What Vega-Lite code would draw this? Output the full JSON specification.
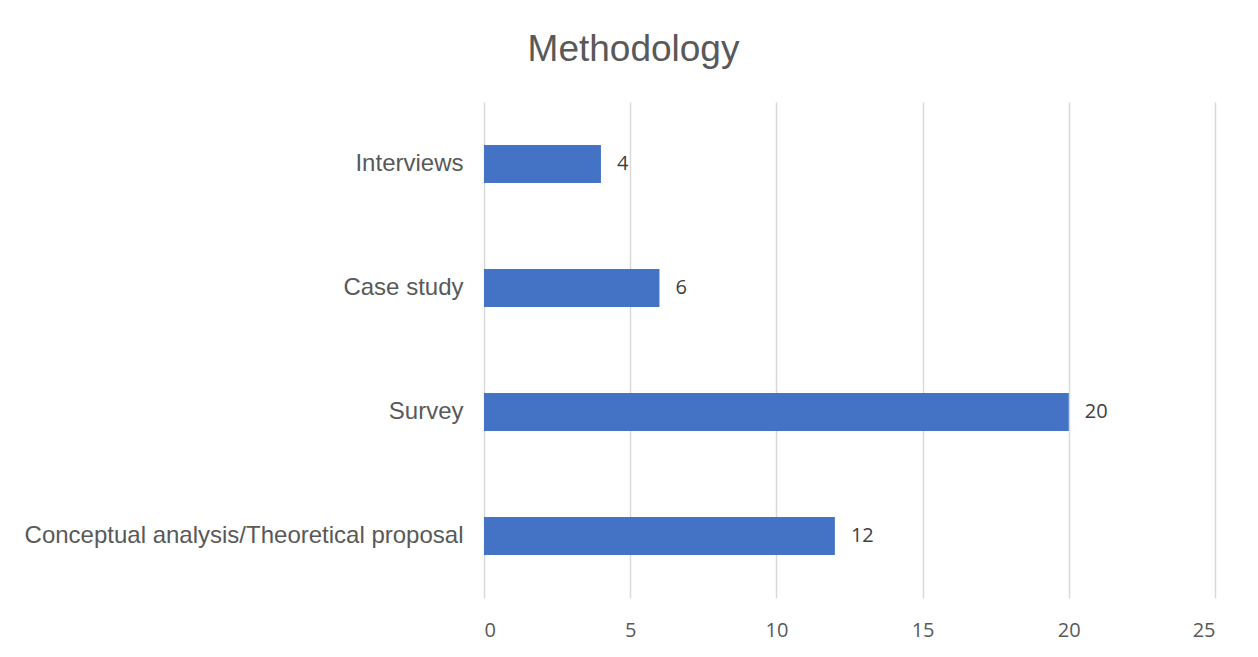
{
  "$schema": "https://vega.github.io/schema/vega-lite/v6.json",
  "width": 731,
  "height": 496,
  "autosize": {"type": "none"},
  "padding": {"left": 484, "top": 102, "right": 43, "bottom": 59},
  "background": "white",
  "title": {
    "text": "Methodology",
    "font": "Liberation Sans",
    "fontSize": 37,
    "fontWeight": "normal",
    "color": "#595959",
    "anchor": "middle",
    "baseline": "alphabetic",
    "dx": -216,
    "dy": 35,
    "offset": 39
  },
  "data": {
    "values": [
      {"method": "Interviews", "count": 4},
      {"method": "Case study", "count": 6},
      {"method": "Survey", "count": 20},
      {"method": "Conceptual analysis/Theoretical proposal", "count": 12}
    ]
  },
  "encoding": {
    "y": {
      "field": "method",
      "type": "nominal",
      "sort": ["Interviews", "Case study", "Survey", "Conceptual analysis/Theoretical proposal"],
      "scale": {"paddingInner": 0.695, "paddingOuter": 0.3475},
      "axis": {
        "title": null,
        "domain": false,
        "ticks": false,
        "labelFont": "Liberation Sans",
        "labelFontSize": 24,
        "labelColor": "#595959",
        "labelPadding": 21,
        "labelLimit": 500
      }
    },
    "x": {
      "field": "count",
      "type": "quantitative",
      "scale": {"domain": [0, 25], "nice": false},
      "axis": {
        "title": null,
        "values": [0, 5, 10, 15, 20, 25],
        "domain": false,
        "ticks": false,
        "grid": true,
        "gridColor": "#D9D9D9",
        "gridWidth": 1.5,
        "labelFont": "Open Sans",
        "labelFontSize": 20,
        "labelColor": "#595959",
        "labelPadding": 22
      }
    }
  },
  "layer": [
    {"mark": {"type": "bar", "color": "#4472C4"}},
    {
      "mark": {"type": "text", "align": "left", "baseline": "middle", "dx": 16, "font": "Open Sans", "fontSize": 20, "color": "#404040"},
      "encoding": {"text": {"field": "count", "type": "quantitative"}}
    }
  ],
  "config": {"view": {"stroke": null}}
}
